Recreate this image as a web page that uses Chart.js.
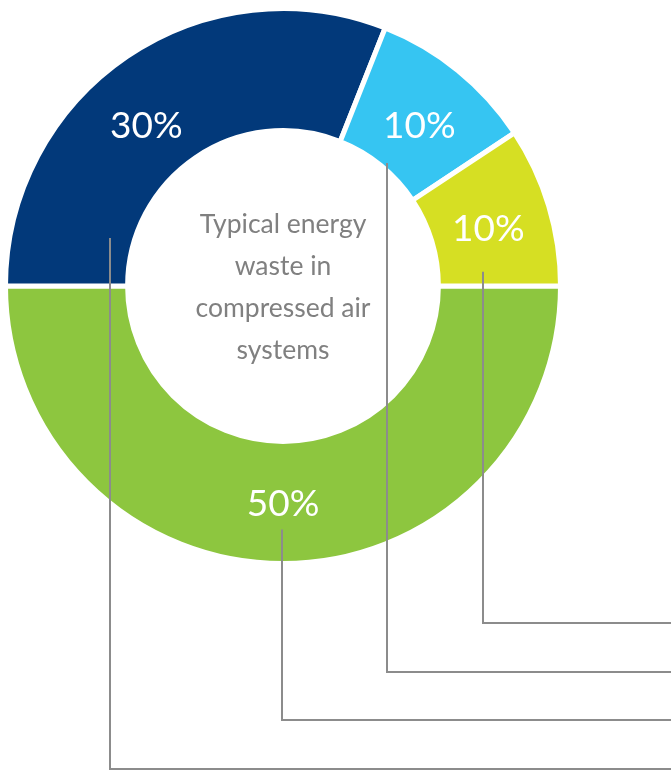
<!DOCTYPE html>
<html>
<head>
<meta charset="utf-8">
<script src="https://cdn.jsdelivr.net/npm/chart.js@4"></script>
<style>
  html, body { margin: 0; padding: 0; background: #fff; }
  canvas { display: block; }
</style>
</head>
<body>
<canvas id="myChart" width="671" height="774"></canvas>
<script>
const segments = ["Segment A", "Segment B", "Segment C", "Segment D"];
// arc sizes as drawn in the picture, and the percentages printed on them
const shares = [50, 31, 9.7, 9.3];
const shareLabels = ["50%", "30%", "10%", "10%"];
const segmentColors = ["#8dc63f", "#02397a", "#36c5f2", "#d6df23"];
const centerLines = ["Typical energy", "waste in", "compressed air", "systems"];

// label nudge from the arc centre, then leader line offsets from the label
const labelDx = [0, -15, 0, -2];
const labelDy = [2, 19, 8, 5];
const leaderDx = [-1, -36, -32, -5];
const leaderDy = [25, 112, 37, 43];
const leaderEndY = [720, 769, 672, 623];

const labelPlugin = {
  id: "labels",
  afterDraw(chart) {
    const { ctx } = chart;
    const meta = chart.getDatasetMeta(0);
    const cx = meta.data[0].x;
    const cy = meta.data[0].y;

    ctx.save();
    ctx.textAlign = "center";
    ctx.textBaseline = "middle";

    // centre text
    ctx.fillStyle = "#808080";
    ctx.font = "26.5px Lato";
    centerLines.forEach((line, i) => {
      ctx.fillText(line, cx, cy - 62 + i * 42);
    });

    const spots = meta.data.map((arc, i) => {
      const pos = arc.tooltipPosition();
      return { x: pos.x + labelDx[i], y: pos.y + labelDy[i] };
    });

    // leader lines
    ctx.strokeStyle = "#8c8c8c";
    ctx.lineWidth = 2;
    spots.forEach((p, i) => {
      const x = Math.round(p.x + leaderDx[i]);
      ctx.beginPath();
      ctx.moveTo(x, p.y + leaderDy[i]);
      ctx.lineTo(x, leaderEndY[i]);
      ctx.lineTo(chart.width, leaderEndY[i]);
      ctx.stroke();
    });

    // percentages
    ctx.fillStyle = "#ffffff";
    ctx.font = "37px Lato";
    spots.forEach((p, i) => {
      ctx.fillText(shareLabels[i], p.x, p.y);
    });
    ctx.restore();
  },
};

new Chart(document.getElementById("myChart"), {
  type: "doughnut",
  data: {
    labels: segments,
    datasets: [
      {
        data: shares,
        backgroundColor: segmentColors,
        borderColor: "#ffffff",
        borderWidth: 5,
      },
    ],
  },
  options: {
    responsive: false,
    animation: false,
    rotation: 90,
    cutout: "56%",
    layout: {
      padding: { left: 3, top: 6, right: 108, bottom: 208 },
    },
    plugins: {
      legend: { display: false },
      tooltip: { enabled: false },
    },
  },
  plugins: [labelPlugin],
});
</script>
</body>
</html>
